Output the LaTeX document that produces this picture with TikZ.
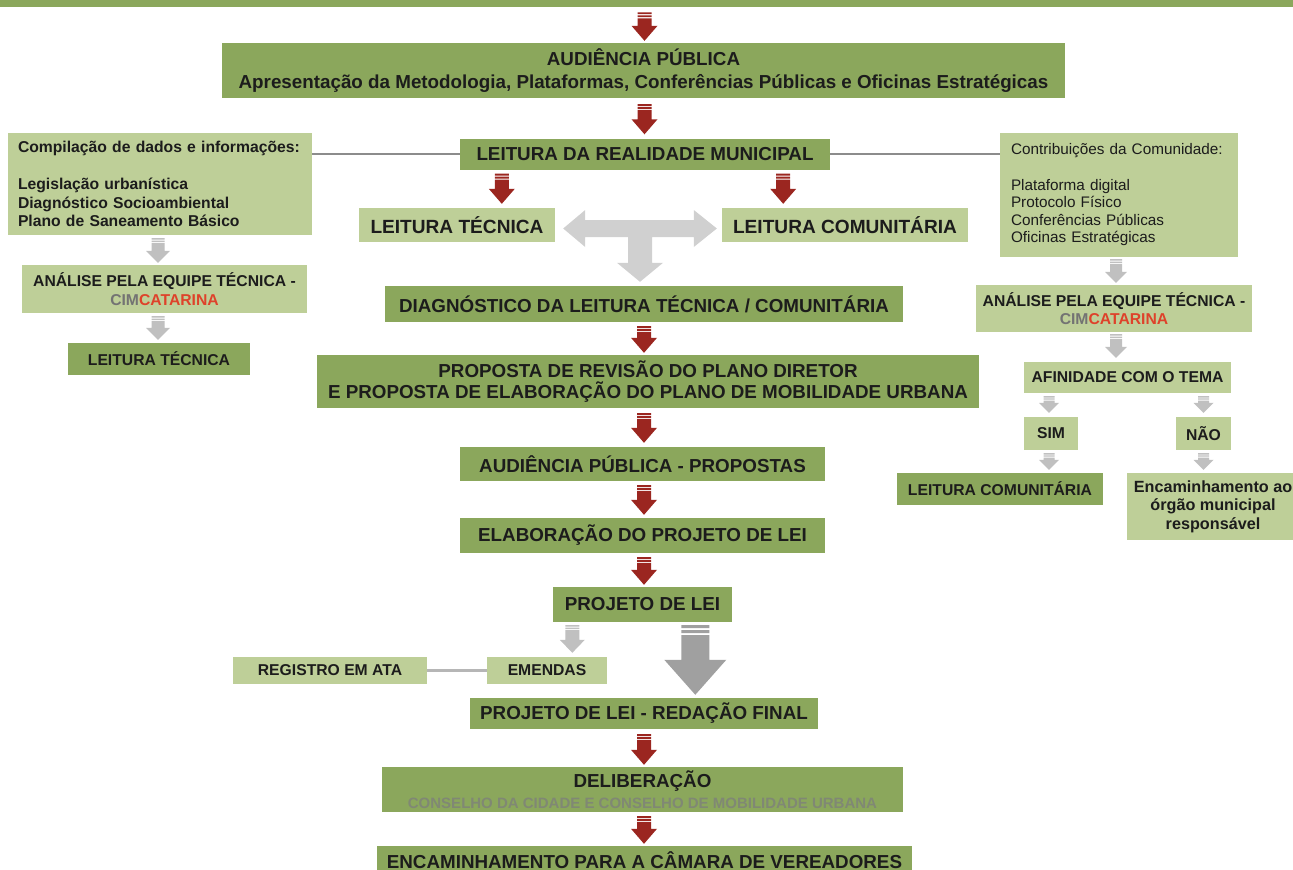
\documentclass[tikz,border=0pt]{standalone}
\usepackage{fontspec}
\setmainfont{Liberation Sans}
\usetikzlibrary{calc}
\definecolor{dgreen}{RGB}{139,167,92}
\definecolor{lgreen}{RGB}{190,207,152}
\definecolor{ared}{RGB}{155,38,32}
\definecolor{agray}{RGB}{192,192,192}
\definecolor{tgray}{RGB}{208,208,208}
\definecolor{bgray}{RGB}{160,160,160}
\definecolor{txt}{RGB}{28,28,28}
\definecolor{subgray}{RGB}{128,136,116}
\definecolor{cimgray}{RGB}{115,115,115}
\definecolor{catred}{RGB}{222,66,42}
\definecolor{lgrayline}{RGB}{140,140,140}
\definecolor{llgrayline}{RGB}{182,182,182}
\hyphenpenalty=10000
% #1 fill, #2 start, #3 end, #4 shaft half width, #5 head half width, #6 head length, #7 stripe unit
\newcommand\blockdown[7]{%
  \fill[#1] let \p1=(#2), \p2=(#3) in
    ({\x1-#4},{\y1}) rectangle ({\x1+#4},{\y1-#7})
    ({\x1-#4},{\y1-1.67*#7}) rectangle ({\x1+#4},{\y1-2.67*#7})
    ({\x1-#4},{\y1-3.33*#7}) rectangle ({\x1+#4},{\y2+#6})
    ({\x1-#5},{\y2+#6}) -- ({\x1+#5},{\y2+#6}) -- ({\x1},{\y2}) -- cycle;
}
\begin{document}
\begin{tikzpicture}[x=1pt,y=-1pt,
  box/.style={inner sep=0pt, align=center, text=txt},
  big/.style={font=\bfseries\fontsize{18.8}{21}\selectfont},
  small/.style={font=\bfseries\fontsize{15.7}{18.5}\selectfont},
  dbox/.style={box, fill=dgreen, big},
  lbox/.style={box, fill=lgreen, big},
  sdbox/.style={box, fill=dgreen, small},
  slbox/.style={box, fill=lgreen, small},
  sz/.style 2 args={minimum width=#1, minimum height=#2},
  link/.style={draw=lgrayline, line width=1.5pt},
  link2/.style={draw=llgrayline, line width=3pt}
]
\useasboundingbox (0,0) rectangle (1293,870);
\fill[white] (0,0) rectangle (1293,870);

% top band
\node[fill=dgreen, inner sep=0pt, minimum width=1293, minimum height=7, anchor=north west] (band) at (0,0) {};

% main column
\node[dbox, sz={843}{55}, font=\bfseries\fontsize{18.8}{23}\selectfont] (aud) at (643.5,70.5)
  {AUDIÊNCIA PÚBLICA\\Apresentação da Metodologia, Plataformas, Conferências Públicas e Oficinas Estratégicas};
\node[dbox, sz={370}{31}] (lrm) at (645,154) {LEITURA DA REALIDADE MUNICIPAL};
\node[lbox, sz={196}{34}, font=\bfseries\fontsize{19.1}{21}\selectfont] (lt) at (457,225) {LEITURA TÉCNICA};
\node[lbox, sz={246}{34}, font=\bfseries\fontsize{19.1}{21}\selectfont] (lc) at (845,225) {LEITURA COMUNITÁRIA};
\node[dbox, sz={518}{36}] (diag) at (644,304) {DIAGNÓSTICO DA LEITURA TÉCNICA / COMUNITÁRIA};
\node[dbox, sz={662}{53}] (prop) at (648,381.5)
  {PROPOSTA DE REVISÃO DO PLANO DIRETOR\\E PROPOSTA DE ELABORAÇÃO DO PLANO DE MOBILIDADE URBANA};
\node[dbox, sz={365}{34}] (audp) at (642.5,464) {AUDIÊNCIA PÚBLICA - PROPOSTAS};
\node[dbox, sz={365}{35}] (elab) at (642.5,535.5) {ELABORAÇÃO DO PROJETO DE LEI};
\node[dbox, sz={179}{35}] (pl) at (642.5,604.5) {PROJETO DE LEI};
\node[slbox, sz={120}{27}] (emen) at (547,670.5) {EMENDAS};
\node[slbox, sz={194}{27}] (reg) at (330,670.5) {REGISTRO EM ATA};
\node[dbox, sz={348}{31}] (plrf) at (644,713.5) {PROJETO DE LEI - REDAÇÃO FINAL};
\node[dbox, sz={521}{45}] (delib) at (642.5,789.5)
  {DELIBERAÇÃO\\{\color{subgray}\fontsize{15}{18}\selectfont CONSELHO DA CIDADE E CONSELHO DE MOBILIDADE URBANA}};
\node[dbox, sz={535}{28}] (enc) at (644.5,860) {ENCAMINHAMENTO PARA A CÂMARA DE VEREADORES};

% left column
\node[slbox, sz={304}{102}, text width=284, align=left] (comp) at (160,184)
  {Compilação de dados e informações:\\[18.5pt]Legislação urbanística\\Diagnóstico Socioambiental\\Plano de Saneamento Básico};
\node[slbox, sz={285}{48}] (anl) at (164.5,289)
  {ANÁLISE PELA EQUIPE TÉCNICA -\\{\color{cimgray}CIM}{\color{catred}CATARINA}};
\node[sdbox, sz={182}{32}] (lts) at (159,359) {LEITURA TÉCNICA};

% right column
\node[slbox, sz={238}{124}, text width=216, align=left, font=\fontsize{15.3}{17.6}\selectfont] (contrib) at (1119,195)
  {\mbox{Contribuições da Comunidade:}\\[17.6pt]Plataforma digital\\Protocolo Físico\\Conferências Públicas\\Oficinas Estratégicas};
\node[slbox, sz={276}{47}] (anr) at (1114,308.5)
  {ANÁLISE PELA EQUIPE TÉCNICA -\\{\color{cimgray}CIM}{\color{catred}CATARINA}};
\node[slbox, sz={207}{31}] (afin) at (1127.5,377.5) {AFINIDADE COM O TEMA};
\node[slbox, sz={54}{33}] (sim) at (1051,433.5) {SIM};
\node[slbox, sz={55}{33}] (nao) at (1203.5,433.5) {NÃO};
\node[sdbox, sz={206}{32}] (lcs) at (1000,489) {LEITURA COMUNITÁRIA};
\node[slbox, sz={172}{67}, font=\bfseries\fontsize{16.2}{18.5}\selectfont] (encam) at (1213,506.5)
  {Encaminhamento ao\\órgão municipal\\responsável};

% connector lines
\draw[link] (comp.east |- lrm.west) -- (lrm.west);
\draw[link] (lrm.east) -- (lrm.east -| contrib.west);
\draw[link2] (reg.east) -- (emen.west);

% red arrows main column
\blockdown{ared}{$(band.south -| aud.north)+(1,5)$}{$(aud.north)+(1,-2)$}{7}{13}{15}{1.8}
\blockdown{ared}{$(aud.south)+(1,6)$}{$(lrm.north)+(0,-4)$}{7}{13}{15}{1.8}
\blockdown{ared}{$(lrm.south west)+(42,4)$}{$(lt.north)+(0,-4)$}{7}{13}{15}{1.8}
\blockdown{ared}{$(lrm.south east)+(-47,4)$}{$(lc.north)+(0,-4)$}{7}{13}{15}{1.8}
\blockdown{ared}{$(diag.south)+(0,4)$}{$(prop.north)+(0,-2)$}{7}{13}{15}{1.8}
\blockdown{ared}{$(prop.south -| diag.south)+(0,5)$}{$(audp.north)+(0,-4)$}{7}{13}{15}{1.8}
\blockdown{ared}{$(audp.south -| diag.south)+(0,4)$}{$(elab.north)+(0,-3)$}{7}{13}{15}{1.8}
\blockdown{ared}{$(elab.south -| diag.south)+(0,4)$}{$(pl.north)+(0,-2)$}{7}{13}{15}{1.8}
\blockdown{ared}{$(plrf.south)+(0,5)$}{$(delib.north)+(0,-2)$}{7}{13}{15}{1.8}
\blockdown{ared}{$(delib.south -| plrf.south)+(0,4)$}{$(enc.north)+(0,-2)$}{7}{13}{15}{1.8}

% gray arrows
\blockdown{agray}{$(comp.south)+(-2,3)$}{$(anl.north)+(0,-2)$}{6.5}{12}{12}{1.5}
\blockdown{agray}{$(anl.south -| comp.south)+(-2,3)$}{$(lts.north)+(0,-3)$}{6.5}{12}{12}{1.5}
\blockdown{agray}{$(contrib.south)+(-3,2)$}{$(anr.north)+(0,-2)$}{6}{11}{11}{1.5}
\blockdown{agray}{$(anr.south)+(2,2)$}{$(afin.north)+(0,-4)$}{6}{11}{11}{1.5}
\blockdown{agray}{$(afin.south -| sim.north)+(-2,3)$}{$(sim.north)+(0,-4)$}{5.5}{10}{10}{1.3}
\blockdown{agray}{$(afin.south -| nao.north)+(0,3)$}{$(nao.north)+(0,-4)$}{5.5}{10}{10}{1.3}
\blockdown{agray}{$(sim.south)+(-2,3)$}{$(lcs.north)+(0,-3)$}{5.5}{10}{10}{1.3}
\blockdown{agray}{$(nao.south)+(0,3)$}{$(encam.north)+(0,-3)$}{5.5}{10}{10}{1.3}
\blockdown{agray}{$(pl.south west)+(19.5,3)$}{$(emen.north)+(0,-4)$}{7}{12.5}{13}{1.5}
\blockdown{bgray}{$(pl.south west)+(142.5,3)$}{$(plrf.north)+(0,-3)$}{14}{31}{35}{3}

% T-shaped gray arrow
\coordinate (tl) at ($(lt.east)+(8,3.5)$);
\coordinate (tr) at ($(lc.west)+(-5,3.5)$);
\coordinate (tb) at ($(diag.north)+(-4,-4)$);
\coordinate (sr) at ($(tb)+(12,0)$);
\coordinate (sl) at ($(tb)+(-12,0)$);
\coordinate (sb) at ($(tl)+(0,8.5)$);
\fill[tgray] (tl) -- ($(tl)+(22,-18.5)$) -- ($(tl)+(22,-8.5)$) -- ($(tr)+(-23,-8.5)$) -- ($(tr)+(-23,-18.5)$)
  -- (tr) -- ($(tr)+(-23,18.5)$) -- ($(tr)+(-23,8.5)$) -- (sr |- sb) -- ($(tb)+(12,-19)$) -- ($(tb)+(23,-19)$)
  -- (tb) -- ($(tb)+(-23,-19)$) -- ($(tb)+(-12,-19)$) -- (sl |- sb) -- ($(tl)+(22,8.5)$) -- ($(tl)+(22,18.5)$) -- cycle;
\end{tikzpicture}
\end{document}
